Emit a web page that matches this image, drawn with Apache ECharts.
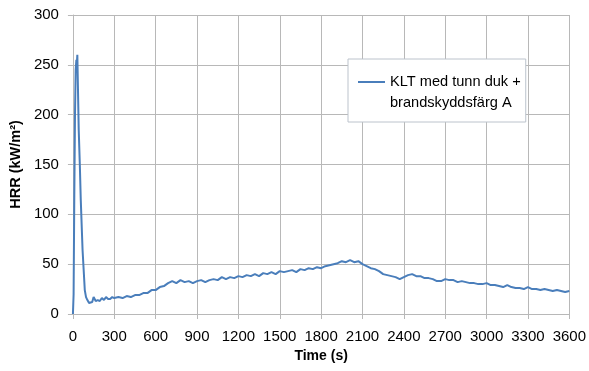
<!DOCTYPE html>
<html>
<head>
<meta charset="utf-8">
<script src="https://cdn.jsdelivr.net/npm/echarts@6/dist/echarts.min.js"></script>
<style>html,body{margin:0;padding:0;background:#fff}#c{width:589px;height:371px}</style>
</head>
<body>
<div id="c"></div>
<script>
var seriesName = "KLT med tunn duk +\nbrandskyddsfärg A";
var xTitle = "Time (s)";
var yTitle = "HRR (kW/m²)";
var xTicks = [0,300,600,900,1200,1500,1800,2100,2400,2700,3000,3300,3600];
var yTicks = [0,50,100,150,200,250,300];

var times = [
  0,5,10,15,20,25,28,32,36,42,50,57,70,86,95,105,117,130,140,150,165,180,195,210,225,240,255,270,285,300,
  330,360,390,420,450,480,510,540,570,600,630,660,690,720,750,780,810,840,870,900,
  930,960,990,1020,1050,1080,1110,1140,1170,1200,1230,1260,1290,1320,1350,1380,1410,1440,1470,1500,
  1530,1560,1590,1620,1650,1680,1710,1740,1770,1800,1830,1860,1890,1920,1950,1980,2010,2040,2070,2100,
  2130,2160,2190,2220,2250,2280,2310,2340,2370,2400,2430,2460,2490,2520,2550,2580,2610,2640,2670,2700,
  2730,2760,2790,2820,2850,2880,2910,2940,2970,3000,3030,3060,3090,3120,3150,3180,3210,3240,3270,3300,
  3330,3360,3390,3420,3450,3480,3510,3540,3570,3600
];
var hrr = [
  0,20,120,200,245,255,250,260,230,185,150,114,64,24,17,14,11,13,12,17,13,14,13,16,14,17,15,15,17,16,
  17,16,18,17,19,19,21,21,24,24,27,28,31,33,31,34,32,33,31,33,
  34,32,34,35,34,37,35,37,36,38,37,39,38,40,38,41,40,42,40,43,
  42,43,44,42,45,44,46,45,47,46,48,49,50,51,53,52,54,52,53,50,
  48,46,45,43,40,39,38,37,35,37,39,40,38,38,36,36,35,33,33,35,
  34,34,32,33,32,31,31,30,30,31,29,29,28,27,29,27,26,26,25,27,
  25,25,24,25,24,23,24,23,22,23
];

var data = times.map(function(t,i){ return [t, hrr[i]]; });

var chart = echarts.init(document.getElementById('c'), null, {renderer:'canvas'});
var grid = '#b8b8b8';
var font = 'Liberation Sans';
chart.setOption({
  animation: false,
  backgroundColor: '#fff',
  grid: {left: 72, right: 18, top: 15, bottom: 57, containLabel: false},
  legend: {
    left: 348, top: 59,
    orient: 'vertical',
    padding: [12, 5, 9, 10],
    itemWidth: 27, itemHeight: 22,
    icon: 'path://M0,0L27,0L27,2L0,2Z M0,22L0.01,22',
    itemStyle: {borderWidth: 0, color: '#4a7ebb'},
    backgroundColor: '#fff',
    borderColor: '#bcc3cc', borderWidth: 1,
    textStyle: {fontFamily: font, fontSize: 14.6, color: '#000', lineHeight: 21},
    data: [seriesName]
  },
  xAxis: {
    type: 'value', min: xTicks[0], max: xTicks[xTicks.length-1], interval: 300,
    name: xTitle, nameLocation: 'middle', nameGap: 34,
    nameTextStyle: {fontFamily: font, fontSize: 14, fontWeight: 'bold', color: '#000'},
    axisLine: {show: true, lineStyle: {color: grid, width: 1}},
    axisTick: {show: true, length: 5, lineStyle: {color: grid}},
    axisLabel: {fontFamily: font, fontSize: 15, color: '#000', margin: 15, formatter: function(v){return String(v);}},
    splitLine: {show: true, lineStyle: {color: grid, width: 1}}
  },
  yAxis: {
    type: 'value', min: yTicks[0], max: yTicks[yTicks.length-1], interval: 50,
    name: yTitle, nameLocation: 'middle', nameGap: 40, nameRotate: 90,
    nameTextStyle: {fontFamily: font, fontSize: 14.5, fontWeight: 'bold', color: '#000'},
    axisLine: {show: true, lineStyle: {color: grid, width: 1}},
    axisTick: {show: true, length: 5, lineStyle: {color: grid}},
    axisLabel: {fontFamily: font, fontSize: 15, color: '#000', margin: 14, formatter: function(v){return String(v);}},
    splitLine: {show: true, lineStyle: {color: grid, width: 1}}
  },
  series: [{
    name: seriesName,
    type: 'line',
    data: data,
    symbol: 'none',
    showSymbol: false,
    lineStyle: {color: '#4a7ebb', width: 2},
    itemStyle: {color: '#4a7ebb'}
  }]
});
</script>
</body>
</html>
